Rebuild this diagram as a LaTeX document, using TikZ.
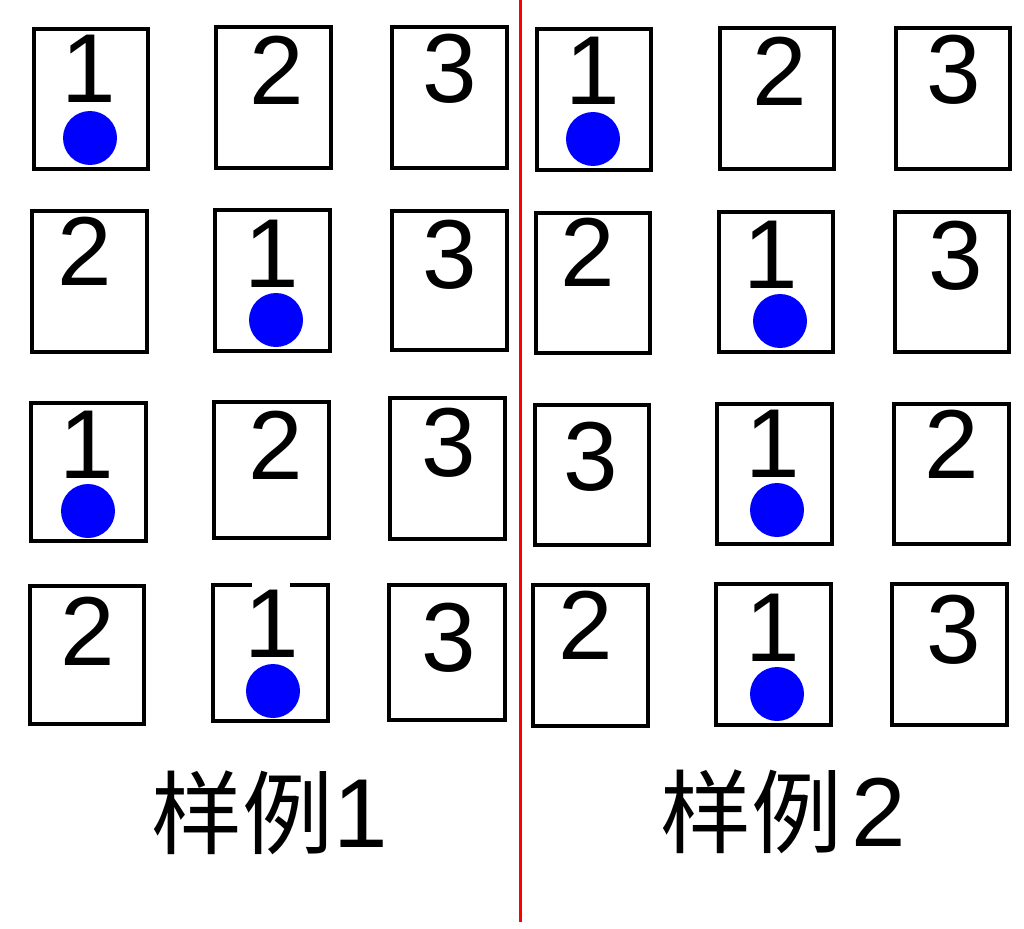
\documentclass[tikz,border=0pt]{standalone}
\usepackage{fontspec}
\setmainfont{Liberation Sans}
\newfontfamily\cjkfont{Noto Sans CJK SC}
\begin{document}
\begin{tikzpicture}[x=1pt,y=-1pt,
  cardbox/.style={draw=black,line width=4pt,fill=none,inner sep=0pt,outer sep=0pt},
  digit/.style={inner sep=0pt,outer sep=0pt,anchor=base,font=\fontsize{98}{98}\selectfont},
  bluedot/.style={circle,fill=blue,draw=none,minimum size=54pt,inner sep=0pt},
  caption/.style={inner sep=0pt,anchor=base west},
  divider/.style={draw=red,line width=3pt}]
\useasboundingbox (0,0) rectangle (1024,928);
\fill[white] (0,0) rectangle (1024,928);
% \mycard{name}{x1}{y1}{x2}{y2}{digit}{digit x}{baseline y}
\newcommand{\mycard}[8]{%
  \pgfmathsetmacro{\cw}{#4-#2}\pgfmathsetmacro{\ch}{#5-#3}%
  \pgfmathsetmacro{\cx}{(#2+#4)/2}\pgfmathsetmacro{\cy}{(#3+#5)/2}%
  \node[cardbox,minimum width=\cw pt,minimum height=\ch pt] (#1) at (\cx,\cy) {};
  \node[digit] (#1d) at (#7,#8) {#6};}
\newcommand{\cjksize}{\cjkfont\fontsize{91}{91}\selectfont}
\newcommand{\digsize}{\fontsize{98}{98}\selectfont}
% left group
\mycard{La}{34}{29}{148}{169}{1}{89}{103}
\mycard{Lb}{216}{27}{331}{168}{2}{277}{105}
\mycard{Lc}{392}{27}{507}{168}{3}{450}{103}
\mycard{Ld}{32}{211}{147}{352}{2}{85}{285}
\mycard{Le}{215}{210}{330}{351}{1}{272}{287}
\mycard{Lf}{392}{211}{507}{350}{3}{450}{288}
\mycard{Lg}{31}{403}{146}{541}{1}{87}{478}
\mycard{Lh}{214}{402}{329}{538}{2}{276}{479}
\mycard{Li}{390}{398}{505}{539}{3}{449}{476}
\mycard{Lj}{30}{586}{144}{724}{2}{88}{665}
\mycard{Lk}{213}{585}{328}{721}{1}{272}{657}
\mycard{Ll}{389}{585}{505}{720}{3}{449}{671}
\fill[white] (252,580) rectangle (290,587);
% right group
\mycard{Ra}{537}{29}{651}{170}{1}{593}{105}
\mycard{Rb}{720}{28}{834}{169}{2}{780}{106}
\mycard{Rc}{896}{28}{1010}{169}{3}{954}{104}
\mycard{Rd}{536}{213}{650}{353}{2}{588}{286}
\mycard{Re}{719}{212}{833}{352}{1}{771}{288}
\mycard{Rf}{895}{212}{1009}{352}{3}{956}{289}
\mycard{Rg}{535}{405}{649}{545}{3}{591}{490}
\mycard{Rh}{717}{404}{832}{544}{1}{773}{477}
\mycard{Ri}{894}{404}{1009}{544}{2}{952}{478}
\mycard{Rj}{533}{585}{648}{726}{2}{586}{659}
\mycard{Rk}{716}{584}{831}{725}{1}{773}{661}
\mycard{Rl}{892}{584}{1007}{725}{3}{954}{663}
% dots
\node[bluedot] (La-dot) at (90,138) {};
\node[bluedot] (Le-dot) at (276,320) {};
\node[bluedot] (Lg-dot) at (88,511) {};
\node[bluedot] (Lk-dot) at (273,691) {};
\node[bluedot] (Ra-dot) at (593,139) {};
\node[bluedot] (Re-dot) at (780,321) {};
\node[bluedot] (Rh-dot) at (777,510) {};
\node[bluedot] (Rk-dot) at (777,694) {};
% divider
\coordinate (divtop) at (520,0);
\coordinate (divbot) at (520,922);
\draw[divider] (divtop) -- (divbot);
% captions
\node[caption] (cap1) at (151,847) {{\cjksize 样例}{\digsize 1}};
\node[caption] (cap2) at (660,846) {{\cjksize 样例}\kern9pt{\digsize 2}};
\end{tikzpicture}
\end{document}
